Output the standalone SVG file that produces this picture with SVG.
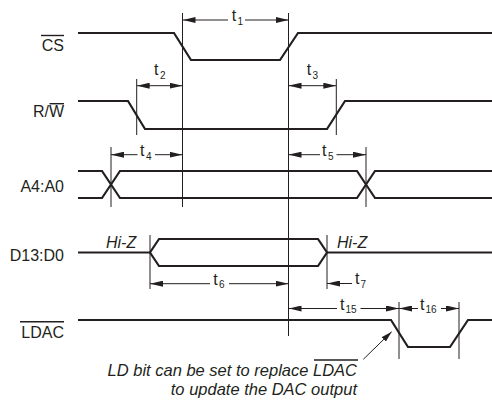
<svg xmlns="http://www.w3.org/2000/svg" width="492" height="401" viewBox="0 0 492 401">
<style>
.sig{fill:none;stroke:#231f20;stroke-width:2.2;stroke-linejoin:miter}
.ref{fill:none;stroke:#231f20;stroke-width:1}
.dim{fill:none;stroke:#231f20;stroke-width:1}
.ov{stroke:#231f20;stroke-width:1.4}
.lbl{font-family:"Liberation Sans",Arial,sans-serif;font-size:16px;fill:#231f20}
.t{font-family:"Liberation Sans",Arial,sans-serif;font-size:16px;fill:#231f20}
.sub{font-family:"Liberation Sans",Arial,sans-serif;font-size:10px;fill:#231f20}
.it{font-family:"Liberation Sans",Arial,sans-serif;font-size:16.5px;font-style:italic;fill:#231f20}
.hz{font-family:"Liberation Sans",Arial,sans-serif;font-size:16px;font-style:italic;fill:#231f20}
</style>
<defs>
<marker id="ah" markerUnits="userSpaceOnUse" markerWidth="13" markerHeight="6" refX="13" refY="3" orient="auto-start-reverse">
<path d="M0,0 L13,3 L0,6 Z" fill="#231f20"/>
</marker>
<marker id="ah2" markerUnits="userSpaceOnUse" markerWidth="11" markerHeight="6" refX="11" refY="3" orient="auto">
<path d="M0,0 L11,3 L0,6 Z" fill="#231f20"/>
</marker>
</defs>

<g id="labels">
<text class="lbl" x="64" y="51" text-anchor="end">CS</text>
<line class="ov" x1="41" y1="35.5" x2="64" y2="35.5"/>
<text class="lbl" x="64" y="117" text-anchor="end">R/W</text>
<line class="ov" x1="49.5" y1="103.7" x2="64" y2="103.7"/>
<text class="lbl" x="64" y="191.5" text-anchor="end">A4:A0</text>
<text class="lbl" x="64" y="260.5" text-anchor="end">D13:D0</text>
<text class="lbl" x="64" y="337.5" text-anchor="end">LDAC</text>
<line class="ov" x1="20" y1="321.7" x2="64" y2="321.7"/>
</g>

<g id="signal-cs">
<path class="sig" d="M78,33 H174 L191,60 H280 L298,33 H492"/>
</g>
<g id="signal-rw">
<path class="sig" d="M78,101 H128 L145,129 H327 L345,101 H492"/>
</g>
<g id="signal-addr">
<path class="sig" d="M78,171 H102 L120,198 H357 L375,171 H492"/>
<path class="sig" d="M78,198 H102 L120,171 H357 L375,198 H492"/>
</g>
<g id="signal-data">
<path class="sig" d="M78,252.5 H150 M159,239 H318 L327,252.5 L318,266 H159 L150,252.5 Z M327,252.5 H492"/>
<text class="hz" x="106" y="248">Hi-Z</text>
<text class="hz" x="337" y="248">Hi-Z</text>
</g>
<g id="signal-ldac">
<path class="sig" d="M78,320 H391 L408,347 H450 L468,320 H492"/>
</g>

<g id="reference-lines">
<line class="ref" x1="182.5" y1="13" x2="182.5" y2="207"/>
<line class="ref" x1="288.5" y1="13" x2="288.5" y2="336"/>
<line class="ref" x1="136.7" y1="79" x2="136.7" y2="135"/>
<line class="ref" x1="336.3" y1="79" x2="336.3" y2="135"/>
<line class="ref" x1="111" y1="147" x2="111" y2="207"/>
<line class="ref" x1="366" y1="147" x2="366" y2="207"/>
<line class="ref" x1="150" y1="235" x2="150" y2="289"/>
<line class="ref" x1="327" y1="235" x2="327" y2="289"/>
<line class="ref" x1="399" y1="302" x2="399" y2="359"/>
<line class="ref" x1="459" y1="302" x2="459" y2="359"/>
</g>

<g id="connectors">
<!-- t1 -->
<line class="dim" x1="228" y1="20" x2="182.5" y2="20" marker-end="url(#ah)"/>
<line class="dim" x1="245" y1="20" x2="288.5" y2="20" marker-end="url(#ah)"/>
<!-- t2 -->
<line class="dim" x1="136.7" y1="85.7" x2="182.5" y2="85.7" marker-start="url(#ah)" marker-end="url(#ah)"/>
<!-- t3 -->
<line class="dim" x1="288.5" y1="85.7" x2="336.3" y2="85.7" marker-start="url(#ah)" marker-end="url(#ah)"/>
<!-- t4 -->
<line class="dim" x1="137.5" y1="154.7" x2="111" y2="154.7" marker-end="url(#ah)"/>
<line class="dim" x1="155" y1="154.7" x2="182.5" y2="154.7" marker-end="url(#ah)"/>
<!-- t5 -->
<line class="dim" x1="320" y1="154.7" x2="288.5" y2="154.7" marker-end="url(#ah)"/>
<line class="dim" x1="336.5" y1="154.7" x2="366" y2="154.7" marker-end="url(#ah)"/>
<!-- t6 -->
<line class="dim" x1="210" y1="283.7" x2="150" y2="283.7" marker-end="url(#ah)"/>
<line class="dim" x1="229" y1="283.7" x2="288.5" y2="283.7" marker-end="url(#ah)"/>
<!-- t7 -->
<line class="dim" x1="352" y1="283.5" x2="327" y2="283.5" marker-end="url(#ah)"/>
<!-- t15 -->
<line class="dim" x1="337" y1="308.5" x2="288.5" y2="308.5" marker-end="url(#ah)"/>
<line class="dim" x1="360.5" y1="308.5" x2="399" y2="308.5" marker-end="url(#ah)"/>
<!-- t16 -->
<line class="dim" x1="418" y1="308.5" x2="399" y2="308.5" marker-end="url(#ah)"/>
<line class="dim" x1="441" y1="308.5" x2="459" y2="308.5" marker-end="url(#ah)"/>
<!-- annotation pointer -->
<line class="dim" x1="363.3" y1="359.3" x2="391.7" y2="331.7" marker-end="url(#ah2)"/>
</g>

<g id="timing-labels">
<text class="t" x="231.7" y="21">t</text><text class="sub" x="237.5" y="24.5">1</text>
<text class="t" x="154" y="75">t</text><text class="sub" x="160" y="79">2</text>
<text class="t" x="306.7" y="75">t</text><text class="sub" x="312.5" y="79">3</text>
<text class="t" x="140" y="156">t</text><text class="sub" x="146" y="159.5">4</text>
<text class="t" x="322" y="156">t</text><text class="sub" x="328" y="159.5">5</text>
<text class="t" x="213.3" y="284.7">t</text><text class="sub" x="219" y="288.3">6</text>
<text class="t" x="355" y="284.3">t</text><text class="sub" x="360.5" y="288">7</text>
<text class="t" x="340" y="309.5">t</text><text class="sub" x="345.5" y="313">15</text>
<text class="t" x="420" y="309.5">t</text><text class="sub" x="425.5" y="313">16</text>
</g>

<g id="annotation">
<text class="it" x="357" y="376" text-anchor="end">LD bit can be set to replace LDAC</text>
<line class="ov" x1="314" y1="360" x2="358" y2="360"/>
<text class="it" x="357" y="395" text-anchor="end">to update the DAC output</text>
</g>
</svg>
